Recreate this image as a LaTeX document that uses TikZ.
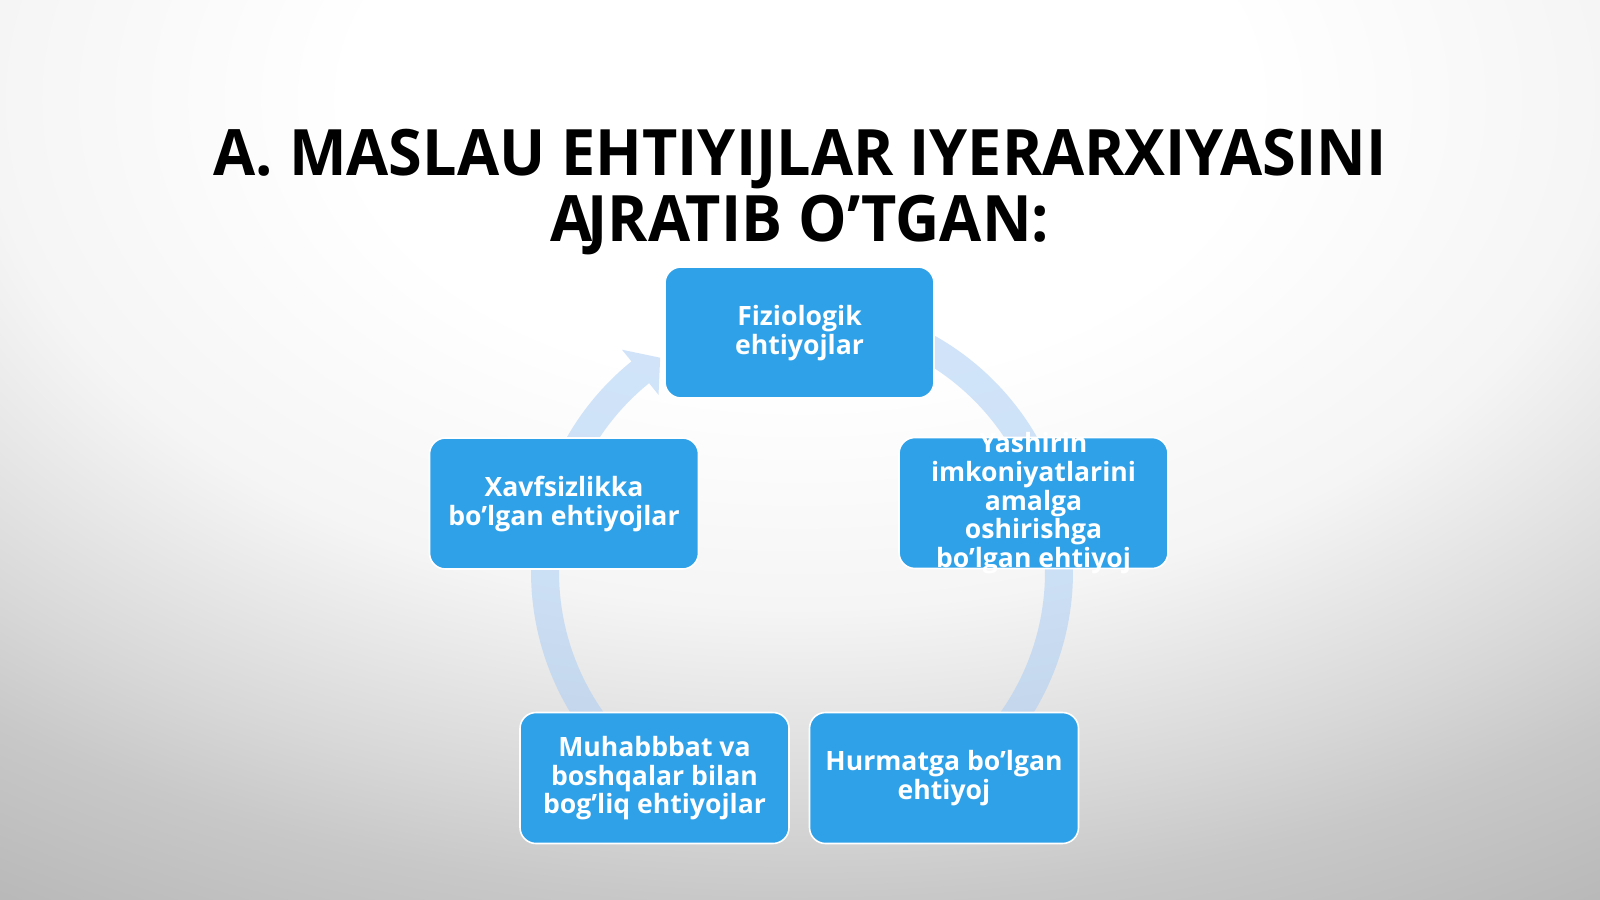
\documentclass[tikz,border=0pt]{standalone}
\usepackage{fontspec}
\setmainfont{Open Sans}
\definecolor{boxblue}{RGB}{46,161,232}
\definecolor{ringblue}{RGB}{170,205,245}
\definecolor{bgA}{RGB}{245,245,245}
\definecolor{bgB}{RGB}{215,215,215}
\definecolor{bgC}{RGB}{200,200,200}
\definecolor{bgD}{RGB}{185,185,185}
\pgfdeclareradialshading{bgshade}{\pgfpoint{0bp}{0bp}}{color(0bp)=(white); color(7bp)=(white); color(12.7bp)=(bgA); color(17.7bp)=(bgB); color(20bp)=(bgC); color(23.5bp)=(bgD); color(50bp)=(bgD)}
\newcommand\btxt[1]{\raisebox{-8.5pt}{\smash{\begin{tabular}{@{}c@{}}#1\end{tabular}}}}
\def\cx{802}
\def\cy{572}
\newcommand\ringarrow[3]{%
  \fill[ringstyle] plot[domain=#1:#2, samples=50] ({\cx+271*cos(\x)},{\cy+271*sin(\x)})
    -- ({\cx+286*cos(#2)},{\cy+286*sin(#2)})
    -- ({\cx+257*cos(#3)},{\cy+257*sin(#3)})
    -- ({\cx+228*cos(#2)},{\cy+228*sin(#2)})
    -- plot[domain=#2:#1, samples=50] ({\cx+243*cos(\x)},{\cy+243*sin(\x)})
    -- cycle;}
\tikzset{
  needbox/.style={rectangle, rounded corners=8pt, fill=boxblue, draw=white, line width=0.8pt,
    minimum width=134.5pt, minimum height=65.5pt, inner sep=0pt, text=white,
    font=\bfseries\fontsize{13.3}{14.2}\selectfont},
  ringstyle/.style={fill=ringblue, fill opacity=0.55},
  titlestyle/.style={inner sep=0pt, text=black, font=\bfseries\fontsize{32}{32.15}\selectfont}
}
\begin{document}
\begin{tikzpicture}[x=0.5pt, y=-0.5pt]
\useasboundingbox (0,0) rectangle (1600,899);
\begin{scope}
  \clip (0,0) rectangle (1600,899);
  \fill[bgD] (0,0) rectangle (1600,899);
  \shade[shading=bgshade] (800,100) ellipse [x radius=1600, y radius=1000];
\end{scope}

% title
\node[titlestyle, anchor=base] (title) at (800,175.5)
  {\scalebox{0.955}[1]{\begin{tabular}[t]{@{}c@{}}A. MASLAU EHTIYIJLAR IYERARXIYASINI\\A\kern-0.09em JRATIB O’TGAN:\end{tabular}}};

% cycle arrows (behind the boxes)
\ringarrow{-165}{-129}{-123.5}
\ringarrow{-75}{-22}{-16}
\ringarrow{-12}{40}{46}
\ringarrow{118}{184}{190}

% boxes
\node[needbox] (fiz) at (799.5,332.5) {\btxt{Fiziologik\\ehtiyojlar}};
\node[needbox] (yash) at (1033.5,503) {\btxt{Yashirin\\imkoniyatlarini\\amalga\\oshirishga\\bo’lgan ehtiyoj}};
\node[needbox] (hur) at (944,778) {\btxt{Hurmatga bo’lgan\\ehtiyoj}};
\node[needbox] (muh) at (654.5,778) {\btxt{Muhabbbat va\\boshqalar bilan\\bog’liq ehtiyojlar}};
\node[needbox] (xav) at (564,503.5) {\btxt{Xavfsizlikka\\bo’lgan ehtiyojlar}};
\end{tikzpicture}
\end{document}
